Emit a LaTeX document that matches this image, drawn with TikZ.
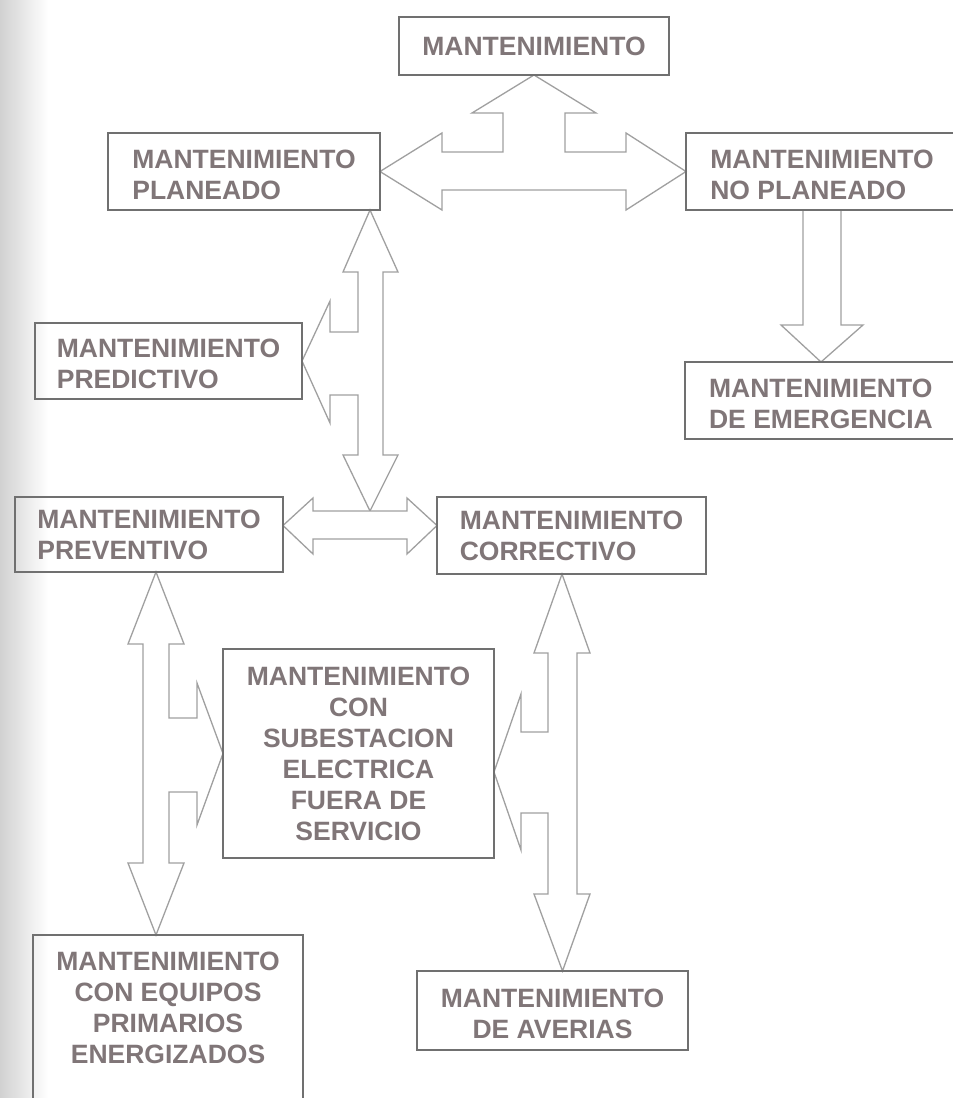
\documentclass[tikz,border=0pt]{standalone}
\usepackage{fontspec}
\setmainfont{Liberation Sans}
\usetikzlibrary{calc}
\definecolor{boxgray}{RGB}{112,112,112}
\definecolor{arrowgray}{RGB}{160,160,160}
\definecolor{txtgray}{RGB}{128,118,120}
\newcommand{\lowstrut}{\rule{0pt}{25pt}}
\tikzset{
  box/.style={draw=boxgray, line width=1.8pt, inner sep=0pt, outer sep=0pt,
    text=txtgray, font=\fontsize{26.5}{31}\selectfont\bfseries},
  lbox/.style={box, align=left},
  cbox/.style={box, align=center},
  boxline/.style={draw=boxgray, line width=1.8pt},
  blockarrow/.style={draw=arrowgray, fill=white, line width=1.3pt, line join=miter},
}
\begin{document}
\begin{tikzpicture}[x=1pt,y=-1pt]
\useasboundingbox (0,0) rectangle (953,1098);
\clip (0,0) rectangle (953,1098);
\fill[white] (0,0) rectangle (953,1098);
\shade[left color=black!18, right color=white] (0,0) rectangle (48,1098);

% boxes
\node[lbox, minimum width=270pt, minimum height=58pt] (top) at (534,46) {MANTENIMIENTO};
\node[lbox, minimum width=272pt, minimum height=77pt] (plan) at (244,171.5) {\lowstrut MANTENIMIENTO\\PLANEADO};
\node[lbox, minimum width=272pt, minimum height=77pt] (noplan) at (822,171.5) {\lowstrut MANTENIMIENTO\\NO PLANEADO};
\node[lbox, minimum width=272pt, minimum height=77pt] (emerg) at (821,400.5) {\lowstrut MANTENIMIENTO\\DE EMERGENCIA};
\node[lbox, minimum width=267pt, minimum height=76pt] (predic) at (168.5,361) {\lowstrut MANTENIMIENTO\\PREDICTIVO};
\node[lbox, minimum width=268pt, minimum height=75pt] (prevent) at (149,534.5) {MANTENIMIENTO\\PREVENTIVO};
\node[lbox, minimum width=269pt, minimum height=77pt] (correct) at (571.5,535.5) {MANTENIMIENTO\\CORRECTIVO};
\node[cbox, minimum width=271pt, minimum height=209pt] (subest) at (358.5,753.5) {MANTENIMIENTO\\CON\\SUBESTACION\\ELECTRICA\\FUERA DE\\SERVICIO};
\node[cbox, minimum width=271pt, minimum height=79pt] (averias) at (552.5,1010.5) {\lowstrut MANTENIMIENTO\\DE AVERIAS};
\node[cbox, draw=none, minimum width=270pt, minimum height=146pt] (equipos) at (168,1008) {MANTENIMIENTO\\CON EQUIPOS\\PRIMARIOS\\ENERGIZADOS};
\coordinate (eqtop) at ($(equipos.north)+(-12,0)$);

% block arrows
\draw[blockarrow] (top.south) -- (596,113) -- (565,113) -- (565,152) -- (626,152) -- (626,133)
  -- (noplan.west) -- (626,210) -- (626,190) -- (442,190) -- (442,210) -- (plan.east)
  -- (442,133) -- (442,152) -- (503,152) -- (503,113) -- (472,113) -- cycle;

\draw[blockarrow] ($(plan.south east)+(-10,0)$) -- (398,272) -- (383,272) -- (383,455) -- (398,455)
  -- (370,511) -- (343,455) -- (358,455) -- (358,395) -- (330,395) -- (330,423)
  -- (predic.east) -- (330,301) -- (330,332) -- (358,332) -- (358,272) -- (343,272) -- cycle;

\draw[blockarrow] ($(prevent.east)+(0,-9)$) -- (313,498) -- (313,511) -- (407,511) -- (407,498)
  -- ($(correct.west)+(0,-10)$) -- (407,554) -- (407,539) -- (313,539) -- (313,554) -- cycle;

\draw[blockarrow] ($(prevent.south)+(7,0)$) -- (184,644) -- (169,644) -- (169,718) -- (197,718)
  -- (197,683) -- (subest.west) -- (197,825) -- (197,792) -- (169,792) -- (169,863) -- (184,863)
  -- (eqtop) -- (128,863) -- (143,863) -- (143,644) -- (128,644) -- cycle;

\draw[blockarrow] ($(correct.south)+(-9.5,0)$) -- (590,653) -- (577,653) -- (577,894) -- (590,894)
  -- ($(averias.north)+(10,0)$) -- (534,894) -- (548,894) -- (548,813) -- (521,813) -- (521,850)
  -- ($(subest.east)+(0,18.5)$) -- (521,694) -- (521,732) -- (548,732) -- (548,653) -- (534,653) -- cycle;

\draw[blockarrow] (803,210) -- (803,325) -- (781,325) -- (emerg.north) -- (863,325) -- (841,325) -- (841,210);

% box borders on top of the arrows
\foreach \n in {top,plan,noplan,emerg,predic,prevent,correct,subest,averias}
  \draw[boxline] (\n.north west) rectangle (\n.south east);
\draw[boxline] ($(equipos.north west)+(0,200)$) -- (equipos.north west) -- (equipos.north east) -- ($(equipos.north east)+(0,200)$);
\end{tikzpicture}
\end{document}
